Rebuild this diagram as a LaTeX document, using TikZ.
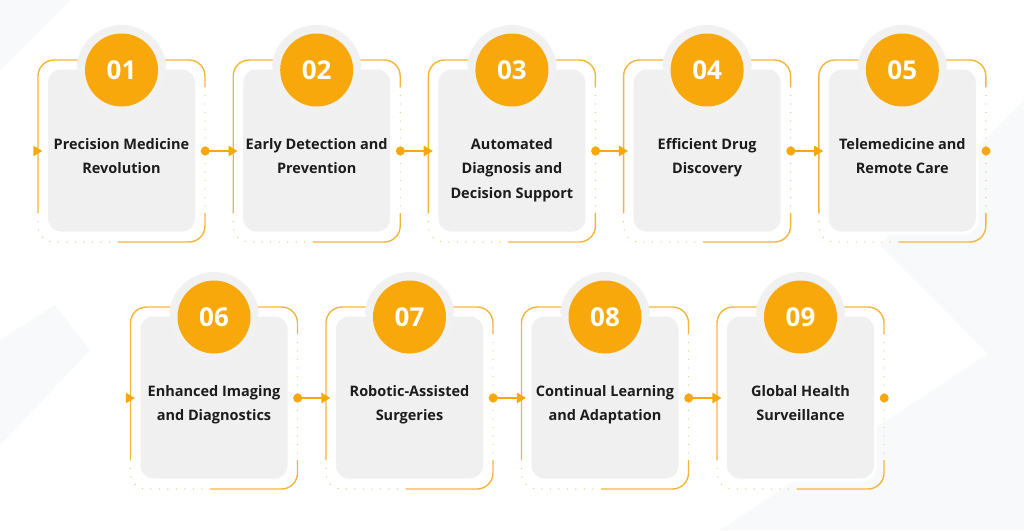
\documentclass[tikz,border=0pt]{standalone}
\usepackage{fontspec}
\setmainfont{Open Sans}
\usepackage{tikz}
\usetikzlibrary{arrows.meta,positioning,calc}

\definecolor{accent}{HTML}{F8A80A}
\definecolor{frameline}{HTML}{F4B63A}
\definecolor{framedot}{HTML}{E6C585}
\definecolor{cardgrey}{HTML}{F0F0F0}
\definecolor{halogrey}{HTML}{F1F1F1}
\definecolor{backshade}{HTML}{F8F9FA}
\definecolor{inktext}{HTML}{1C1C1C}

\tikzset{
  cardframe/.style={draw=none, minimum width=167pt, minimum height=182pt, inner sep=0pt},
  framesolid/.style={draw=frameline, line width=1.4pt, rounded corners=16pt},
  framedots/.style={draw=framedot, line width=1.4pt, line cap=round,
    dash pattern=on 0pt off 8.5pt, rounded corners=16pt},
  numcircle/.style={circle, fill=accent, minimum size=73pt, inner sep=0pt,
    text=white, font=\fontsize{26}{26}\selectfont\bfseries},
  cardtext/.style={anchor=north, align=center, inner sep=0pt, text=inktext,
    font=\fontsize{14.5}{24.5}\selectfont\bfseries},
  link/.style={draw=accent, line width=1.5pt, shorten <=-4.5pt, shorten >=-4.5pt,
    {Circle[length=9pt]}-{Triangle[length=9pt,width=10.5pt]}}
}

\begin{document}
\begin{tikzpicture}[x=1pt,y=-1pt]
  % page and faint background shapes
  \fill[white] (0,0) rectangle (1024,530);
  \useasboundingbox (0,0) rectangle (1024,530);
  \fill[backshade] (0,0) -- (70,0) -- (0,70) -- cycle;
  \fill[backshade] (0,340) -- (55,305) -- (90,350) -- (0,445) -- cycle;
  \fill[backshade] (1024,100) -- (880,245) -- (1024,390) -- cycle;
  \fill[backshade] (1024,330) -- (720,530) -- (1024,530) -- cycle;

  % the nine cards
  \foreach \i/\x/\y/\num/\txt in {
      1/121.5/151/01/{Precision Medicine\\Revolution},
      2/316.7/151/02/{Early Detection and\\Prevention},
      3/511.9/151/03/{Automated\\Diagnosis and\\Decision Support},
      4/707.1/151/04/{Efficient Drug\\Discovery},
      5/902.3/151/05/{Telemedicine and\\Remote Care},
      6/214/398/06/{Enhanced Imaging\\and Diagnostics},
      7/409.5/398/07/{Robotic-Assisted\\Surgeries},
      8/605/398/08/{Continual Learning\\and Adaptation},
      9/800.5/398/09/{Global Health\\Surveillance}} {
    \node[cardframe] (f\i) at (\x,\y) {};
    \begin{scope}[shift={(f\i.center)}]
      % outer frame, solid and dotted parts
      \draw[framesolid] (-4,91) -| (83.5,62);
      \draw[framesolid] (83.5,-64) |- (0,-91) -| (-83.5,62);
      \draw[framedots] (83.5,-64) -- (83.5,62);
      \draw[framedots] (-83.5,62) |- (-4,91);
      % grey card and halo round the number
      \fill[halogrey] (0,-81) circle (45);
      \filldraw[fill=cardgrey, draw=white, line width=3pt, rounded corners=14pt]
        (-75,-83) rectangle (75,82);
      \fill[halogrey] (0,-81) circle (44);
      \node[numcircle] (n\i) at (0,-81) {\num};
      \node[cardtext] (t\i) at (0,-19.15) {\strut\txt};
    \end{scope}
  }

  % connectors, top row
  \draw[link] (f1.east) -- (f2.west);
  \draw[link] (f2.east) -- (f3.west);
  \draw[link] (f3.east) -- (f4.west);
  \draw[link] (f4.east) -- (f5.west);
  % connectors, bottom row
  \draw[link] (f6.east) -- (f7.west);
  \draw[link] (f7.east) -- (f8.west);
  \draw[link] (f8.east) -- (f9.west);

  % loose ends: entry triangles and exit dots
  \foreach \s in {f1,f6} {
    \fill[accent] ([xshift=-4.5pt,yshift=5.25pt]\s.west) -- ([xshift=4.5pt]\s.west)
      -- ([xshift=-4.5pt,yshift=-5.25pt]\s.west) -- cycle;
  }
  \foreach \s in {f5,f9} {
    \fill[accent] (\s.east) circle (4.5);
  }
\end{tikzpicture}
\end{document}
